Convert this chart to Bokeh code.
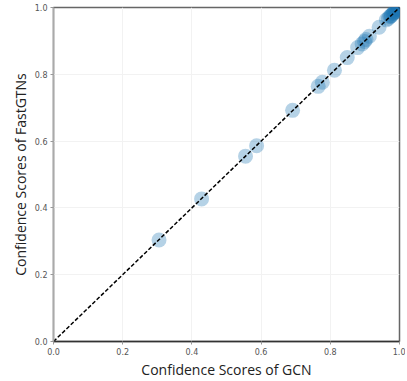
from bokeh.plotting import figure
from bokeh.models import Range1d, FixedTicker, PrintfTickFormatter
from bokeh.embed import file_html
from bokeh.resources import INLINE

gcn_scores = [0.305, 0.428, 0.555, 0.587, 0.691, 0.765, 0.777, 0.812, 0.849,
              0.879, 0.892, 0.899, 0.903, 0.913, 0.941, 0.962, 0.968, 0.972,
              0.975, 0.977, 0.981, 0.983, 0.985, 0.988, 0.990, 0.992, 0.994,
              0.996, 0.997, 0.998, 0.999, 1.000]
fastgtn_scores = [0.304, 0.427, 0.555, 0.586, 0.692, 0.764, 0.776, 0.812, 0.850,
                  0.880, 0.891, 0.898, 0.904, 0.914, 0.941, 0.963, 0.967, 0.973,
                  0.974, 0.976, 0.982, 0.984, 0.986, 0.987, 0.989, 0.993, 0.995,
                  0.995, 0.996, 0.998, 0.999, 1.000]
diag = [0.0, 1.0]
ticks = [0.0, 0.2, 0.4, 0.6, 0.8, 1.0]

p = figure(width=405, height=381, output_backend="svg", toolbar_location=None,
           x_range=Range1d(0, 1), y_range=Range1d(0, 1),
           min_border_left=53, min_border_right=6, min_border_top=7,
           min_border_bottom=39)

p.scatter(gcn_scores, fastgtn_scores, size=15, fill_color="#1f77b4",
          fill_alpha=0.33, line_color="#1f77b4", line_alpha=0.0)
p.line(diag, diag, line_color="black", line_width=1.5, line_dash="4 2")

for ax in (p.xaxis, p.yaxis):
    ax.ticker = FixedTicker(ticks=ticks)
    ax.formatter = PrintfTickFormatter(format="%.1f")
    ax.major_label_text_font = "DejaVu Sans"
    ax.major_label_text_font_size = "8px"
    ax.major_label_text_color = "#555555"
    ax.minor_tick_line_color = None
    ax.major_tick_in = 0
    ax.major_tick_out = 3
    ax.major_tick_line_color = "#999999"
    ax.axis_label_text_font = "Open Sans"
    ax.axis_label_text_font_size = "14px"
    ax.axis_label_text_font_style = "normal"
    ax.axis_label_text_color = "#222222"
    ax.axis_label_standoff = 2
    ax.major_label_standoff = 3

p.xaxis.axis_label = "Confidence Scores of GCN"
p.yaxis.axis_label = "Confidence Scores of FastGTNs"
p.xaxis.axis_line_color = "#333333"
p.xaxis.axis_line_width = 1.5
p.yaxis.axis_line_color = "#aaaaaa"
p.yaxis.axis_line_width = 1.5

p.xgrid.ticker = FixedTicker(ticks=ticks)
p.ygrid.ticker = FixedTicker(ticks=ticks)
p.grid.grid_line_color = "#f2f2f2"
p.grid.grid_line_width = 1

p.outline_line_color = "#666666"
p.outline_line_width = 1.5
p.background_fill_color = "white"
p.border_fill_color = "white"

open("out.html", "w").write(file_html(p, INLINE))
